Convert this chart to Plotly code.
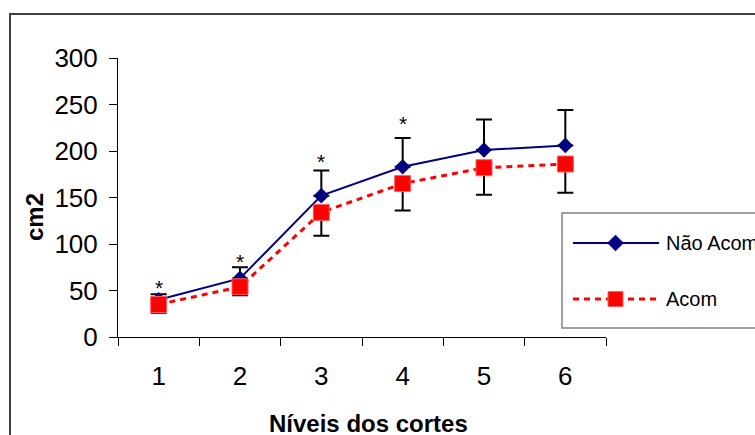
import plotly.graph_objects as go

# ---- data ----
categories = ["1", "2", "3", "4", "5", "6"]
nao_acom = [40, 63, 152, 183, 201, 206]
nao_acom_err_plus = [6, 12, 27, 31, 33, 38]
acom = [35, 54, 134, 165, 182, 186]
acom_err_minus = [9, 9, 25, 29, 29, 31]
signif_cats = ["1", "2", "3", "4"]
signif_y = [57, 86, 193, 234]
y_ticks = [0, 50, 100, 150, 200, 250, 300]

W, H = 755, 435
ML, MR, MT, MB = 118, 149, 58, 98
PW, PH = W - ML - MR, H - MT - MB


def px(x):
    return (x - ML) / PW


def py(y):
    return (H - MB - y) / PH


FONT = "Liberation Sans, Arial, sans-serif"
NAVY = "#000080"
RED = "#FF0000"

fig = go.Figure()
fig.add_trace(go.Scatter(
    x=categories, y=nao_acom, mode="lines+markers", name="Não Acom",
    line=dict(color=NAVY, width=2),
    marker=dict(symbol="diamond", size=12, color=NAVY),
    error_y=dict(type="data", symmetric=False, array=nao_acom_err_plus,
                 arrayminus=[0] * len(nao_acom), color="black", thickness=2, width=8),
    showlegend=False,
))
fig.add_trace(go.Scatter(
    x=categories, y=acom, mode="lines+markers", name="Acom",
    line=dict(color=RED, width=3, dash="6px,5px"),
    marker=dict(symbol="square", size=16, color=RED, line=dict(color="#ff6060", width=1)),
    error_y=dict(type="data", symmetric=False, array=[0] * len(acom),
                 arrayminus=acom_err_minus, color="black", thickness=2, width=8),
    showlegend=False,
))

annotations = []
for c, yv in zip(signif_cats, signif_y):
    annotations.append(dict(x=categories.index(c), y=yv, xref="x", yref="y", text="*",
                            showarrow=False,
                            font=dict(family=FONT, size=21, color="black"),
                            xanchor="center", yanchor="middle", yshift=-4))

# axis titles
annotations.append(dict(x=px(35), y=py(217), xref="paper", yref="paper", text="<b>cm2</b>",
                        textangle=-90, showarrow=False, xanchor="center", yanchor="middle",
                        font=dict(family=FONT, size=24, color="black")))
annotations.append(dict(x=px(368), y=py(423), xref="paper", yref="paper",
                        text="<b>Níveis dos cortes</b>", showarrow=False,
                        xanchor="center", yanchor="middle",
                        font=dict(family=FONT, size=24, color="black")))

# legend texts
annotations.append(dict(x=px(664), y=py(243), xref="paper", yref="paper", text="Não Acom",
                        showarrow=False, xanchor="left", yanchor="middle",
                        font=dict(family=FONT, size=20, color="black")))
annotations.append(dict(x=px(664), y=py(299), xref="paper", yref="paper", text="Acom",
                        showarrow=False, xanchor="left", yanchor="middle",
                        font=dict(family=FONT, size=20, color="black")))

shapes = [
    # outer chart border
    dict(type="rect", xref="paper", yref="paper", x0=px(10), x1=px(820), y0=py(14), y1=py(500),
         line=dict(color="#404040", width=2), fillcolor="rgba(0,0,0,0)", layer="above"),
    # legend box
    dict(type="rect", xref="paper", yref="paper", x0=px(562), x1=px(800), y0=py(213), y1=py(328),
         line=dict(color="#808080", width=1.5), fillcolor="white", layer="above"),
    # legend lines
    dict(type="line", xref="paper", yref="paper", x0=px(573), x1=px(659), y0=py(243), y1=py(243),
         line=dict(color=NAVY, width=2), layer="above"),
    dict(type="line", xref="paper", yref="paper", x0=px(573), x1=px(656), y0=py(299), y1=py(299),
         line=dict(color=RED, width=3, dash="6px,5px"), layer="above"),
    # legend diamond
    dict(type="path", xref="paper", yref="paper",
         path="M {},{} L {},{} L {},{} L {},{} Z".format(px(607.5), py(243), px(615.5), py(235),
                                                         px(623.5), py(243), px(615.5), py(251)),
         fillcolor=NAVY, line=dict(color=NAVY, width=0.5), layer="above"),
    # legend square
    dict(type="rect", xref="paper", yref="paper", x0=px(608), x1=px(623), y0=py(291.5), y1=py(306.5),
         fillcolor=RED, line=dict(color="#ff6060", width=1), layer="above"),
]

fig.update_layout(
    width=W, height=H,
    margin=dict(l=ML, r=MR, t=MT, b=MB, pad=0),
    paper_bgcolor="white", plot_bgcolor="white",
    font=dict(family=FONT, color="black"),
    showlegend=False,
    annotations=annotations,
    shapes=shapes,
    xaxis=dict(type="category", range=[-0.5, 5.5], tickson="boundaries",
               showline=True, linecolor="black", linewidth=1,
               ticks="outside", ticklen=8, tickcolor="black", tickwidth=1,
               showgrid=False, zeroline=False,
               tickfont=dict(family=FONT, size=26, color="black"),
               ticklabelstandoff=16, fixedrange=True),
    yaxis=dict(range=[0, 300], tickvals=y_ticks,
               showline=True, linecolor="black", linewidth=1,
               ticks="outside", ticklen=8, tickcolor="black", tickwidth=1,
               showgrid=False, zeroline=False,
               tickfont=dict(family=FONT, size=26, color="black"),
               ticklabelstandoff=6, fixedrange=True),
)

fig.write_html("out.html", config={"displayModeBar": False},
               post_script="document.body.style.margin='0px';document.body.style.overflow='hidden';")
